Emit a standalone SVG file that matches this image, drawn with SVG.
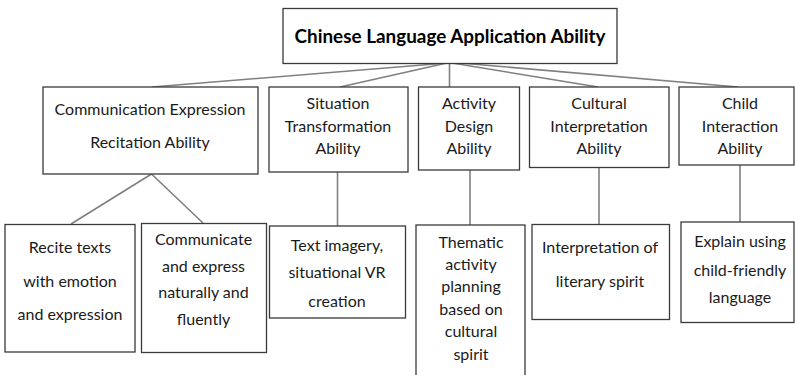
<svg xmlns="http://www.w3.org/2000/svg" width="795" height="375" viewBox="0 0 795 375">
<style>
.box{fill:#fff;stroke:#3a3a3a;stroke-width:1.3}
.t{font-family:Lato,"Open Sans","Liberation Sans",sans-serif;font-size:16px;fill:#1a1a1a;text-anchor:middle}
.r{font-family:Lato,"Open Sans","Liberation Sans",sans-serif;font-size:18.5px;font-weight:bold;fill:#000;text-anchor:middle}
.c{stroke:#808080;stroke-width:1.6;fill:none}
</style>
<rect width="795" height="375" fill="#fff"/>
<g id="connectors">
<line class="c" x1="447" y1="63" x2="152" y2="87"/>
<line class="c" x1="447" y1="63" x2="340" y2="87"/>
<line class="c" x1="449.5" y1="63" x2="449.5" y2="87"/>
<line class="c" x1="452" y1="63" x2="598" y2="87"/>
<line class="c" x1="460" y1="63" x2="738" y2="87"/>
<line class="c" x1="151.5" y1="174" x2="71" y2="224"/>
<line class="c" x1="151.5" y1="174" x2="203" y2="223"/>
<line class="c" x1="337.5" y1="172" x2="337.5" y2="226"/>
<line class="c" x1="470" y1="170" x2="470" y2="225"/>
<line class="c" x1="599" y1="167" x2="599" y2="224"/>
<line class="c" x1="740" y1="165" x2="740" y2="222"/>
</g>
<g id="root">
<rect class="box" x="283" y="8.5" width="334" height="55"/>
<text class="r" x="450" y="43" textLength="311" lengthAdjust="spacingAndGlyphs">Chinese Language Application Ability</text>
</g>
<g id="n-communication">
<rect class="box" x="43" y="87" width="215" height="87"/>
<text class="t" x="150" y="115">Communication Expression</text>
<text class="t" x="150" y="148">Recitation Ability</text>
</g>
<g id="n-situation">
<rect class="box" x="269" y="87" width="139" height="85"/>
<text class="t" x="338" y="109">Situation</text>
<text class="t" x="338" y="132">Transformation</text>
<text class="t" x="338" y="154">Ability</text>
</g>
<g id="n-activity">
<rect class="box" x="418.5" y="87" width="101" height="83"/>
<text class="t" x="469" y="109">Activity</text>
<text class="t" x="469" y="132">Design</text>
<text class="t" x="469" y="154">Ability</text>
</g>
<g id="n-cultural">
<rect class="box" x="529.5" y="87" width="139.5" height="80.5"/>
<text class="t" x="599" y="109">Cultural</text>
<text class="t" x="599" y="132">Interpretation</text>
<text class="t" x="599" y="154">Ability</text>
</g>
<g id="n-child">
<rect class="box" x="679" y="87" width="115" height="78"/>
<text class="t" x="740" y="109">Child</text>
<text class="t" x="740" y="132">Interaction</text>
<text class="t" x="740" y="154">Ability</text>
</g>
<g id="n-recite">
<rect class="box" x="5" y="224.5" width="130" height="127.5"/>
<text class="t" x="70" y="253">Recite texts</text>
<text class="t" x="70" y="287">with emotion</text>
<text class="t" x="70" y="320">and expression</text>
</g>
<g id="n-communicate">
<rect class="box" x="141.5" y="223.5" width="125" height="129"/>
<text class="t" x="203.5" y="245">Communicate</text>
<text class="t" x="203.5" y="272">and express</text>
<text class="t" x="203.5" y="298">naturally and</text>
<text class="t" x="203.5" y="325">fluently</text>
</g>
<g id="n-text-imagery">
<rect class="box" x="269.5" y="226" width="136" height="92"/>
<text class="t" x="337" y="251">Text imagery,</text>
<text class="t" x="337" y="278">situational VR</text>
<text class="t" x="337" y="307">creation</text>
</g>
<g id="n-thematic">
<rect class="box" x="416" y="225" width="109" height="160"/>
<text class="t" x="471" y="248">Thematic</text>
<text class="t" x="471" y="270">activity</text>
<text class="t" x="471" y="292">planning</text>
<text class="t" x="471" y="315">based on</text>
<text class="t" x="471" y="337">cultural</text>
<text class="t" x="471" y="360">spirit</text>
</g>
<g id="n-literary">
<rect class="box" x="532" y="224.5" width="137.5" height="95"/>
<text class="t" x="600" y="253">Interpretation of</text>
<text class="t" x="600" y="287">literary spirit</text>
</g>
<g id="n-explain">
<rect class="box" x="681" y="222" width="113" height="100.5"/>
<text class="t" x="740" y="247">Explain using</text>
<text class="t" x="740" y="276">child-friendly</text>
<text class="t" x="740" y="303">language</text>
</g>
</svg>
